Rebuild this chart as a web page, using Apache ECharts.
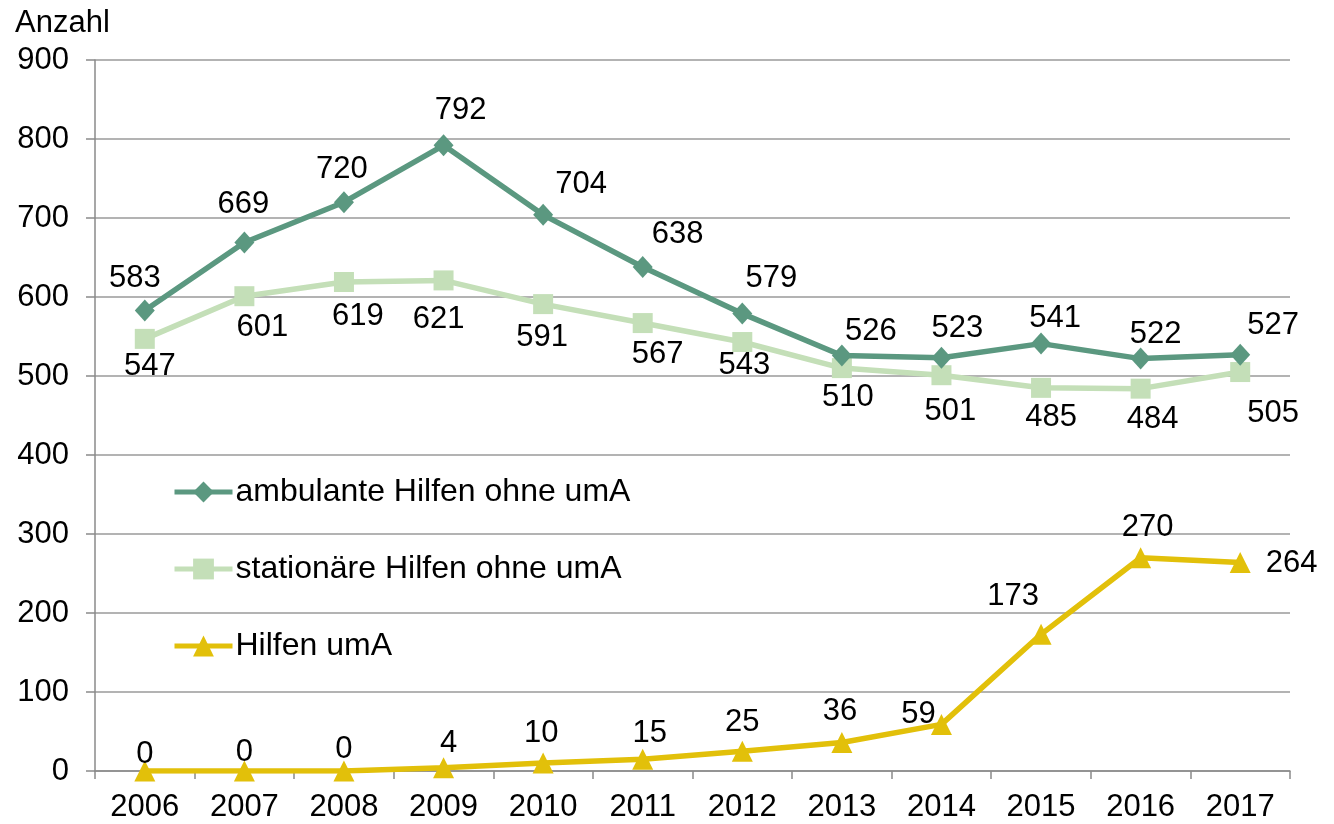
<!DOCTYPE html>
<html>
<head>
<meta charset="utf-8">
<script src="https://cdn.jsdelivr.net/npm/echarts@6/dist/echarts.min.js"></script>
<style>
  html, body { margin: 0; padding: 0; background: #fff; }
  #chart { width: 1334px; height: 824px; }
</style>
</head>
<body>
<div id="chart"></div>
<script>
// Daten
const jahre = ['2006', '2007', '2008', '2009', '2010', '2011', '2012', '2013', '2014', '2015', '2016', '2017'];
const ambulant = [583, 669, 720, 792, 704, 638, 579, 526, 523, 541, 522, 527];
const stationaer = [547, 601, 619, 621, 591, 567, 543, 510, 501, 485, 484, 505];
const uma = [0, 0, 0, 4, 10, 15, 25, 36, 59, 173, 270, 264];

// Label-Verschiebungen je Punkt (nur Darstellung)
const ambOffset = [[-10, -1], [-1, -8], [-2, -2], [17, -4], [38, 0], [35, -2], [29, -5], [29, 6], [16, 1], [14, 5], [15, 6], [33, 1]];
const statOffset = [[5, -4], [18, 0], [14, 3], [-5, 8], [-1, 2], [15, 0], [2, -8], [6, -2], [9, 5], [10, -2], [12, -1], [33, 10]];
const umaOffset = [[0, 12], [0, 10], [0, 7], [5, 5], [-2, -1], [7, 3], [0, 0], [-2, -2], [-23, 19], [-28, -9], [7, -1], [0, 1]];

function mitLabel(werte, offsets) {
  return werte.map(function (v, i) {
    return { value: v, label: { offset: offsets[i] } };
  });
}

const schrift = 'Liberation Sans, Arial, sans-serif';

var umaDaten = mitLabel(uma, umaOffset);
// letzter Wert steht rechts neben dem Punkt
umaDaten[umaDaten.length - 1].label.position = 'right';
umaDaten[umaDaten.length - 1].label.distance = 15;

var myChart = echarts.init(document.getElementById('chart'));
var option = {
  animation: false,
  textStyle: { fontFamily: schrift },
  grid: { left: 95, right: 44, top: 60, bottom: 53, containLabel: false },
  legend: {
    orient: 'vertical',
    left: 167,
    top: 471,
    itemGap: 45,
    itemWidth: 58,
    itemHeight: 26,
    lineStyle: { width: 5 },
    textStyle: { fontSize: 32, color: '#000', fontFamily: schrift, padding: [0, 0, 0, -2] },
    data: ['ambulante Hilfen ohne umA', 'stationäre Hilfen ohne umA', 'Hilfen umA']
  },
  xAxis: {
    type: 'category',
    boundaryGap: true,
    data: jahre,
    axisLine: { lineStyle: { color: '#8a8a8a', width: 1.5 } },
    axisTick: { show: true, length: 8, lineStyle: { color: '#8a8a8a', width: 1.5 } },
    axisLabel: { color: '#000', fontSize: 31, margin: 21, fontFamily: schrift }
  },
  yAxis: {
    type: 'value',
    min: 0,
    max: 900,
    interval: 100,
    name: 'Anzahl',
    nameLocation: 'end',
    nameGap: 21,
    nameTextStyle: { color: '#000', fontSize: 31, align: 'left', padding: [0, 0, 0, -80], fontFamily: schrift },
    axisLine: { show: true, lineStyle: { color: '#8a8a8a', width: 1.5 } },
    axisTick: { show: true, length: 9, lineStyle: { color: '#8a8a8a', width: 1.5 } },
    axisLabel: { color: '#000', fontSize: 31, margin: 26, fontFamily: schrift },
    splitLine: { lineStyle: { color: '#9a9a9a', width: 1.5 } }
  },
  series: [
    {
      name: 'ambulante Hilfen ohne umA',
      type: 'line',
      data: mitLabel(ambulant, ambOffset),
      symbol: 'diamond',
      symbolSize: [20, 22],
      color: '#5b9880',
      lineStyle: { width: 5.5, color: '#5b9880' },
      itemStyle: { color: '#5b9880' },
      label: { show: true, position: 'top', distance: 4, fontSize: 31, color: '#000', fontFamily: schrift },
      z: 3
    },
    {
      name: 'stationäre Hilfen ohne umA',
      type: 'line',
      data: mitLabel(stationaer, statOffset),
      symbol: 'rect',
      symbolSize: 20,
      color: '#c4dfb8',
      lineStyle: { width: 5.5, color: '#c4dfb8' },
      itemStyle: { color: '#c4dfb8' },
      label: { show: true, position: 'bottom', distance: 6, fontSize: 31, color: '#000', fontFamily: schrift },
      z: 2
    },
    {
      name: 'Hilfen umA',
      type: 'line',
      data: umaDaten,
      symbol: 'triangle',
      symbolSize: 21,
      color: '#e2c00a',
      lineStyle: { width: 5.5, color: '#e2c00a' },
      itemStyle: { color: '#e2c00a' },
      label: { show: true, position: 'top', distance: 3, fontSize: 31, color: '#000', fontFamily: schrift },
      z: 4
    }
  ]
};
myChart.setOption(option);

window.addEventListener('resize', function () {
  myChart.resize();
});
</script>
</body>
</html>
